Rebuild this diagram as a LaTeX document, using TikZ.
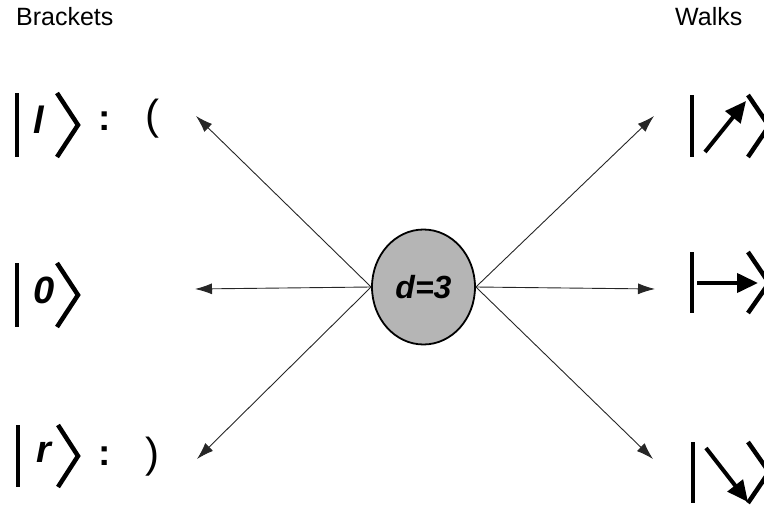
\documentclass[tikz,border=0pt]{standalone}
\usepackage{fontspec}
\setmainfont{Liberation Sans}
\usetikzlibrary{shapes.geometric,arrows.meta}
\begin{document}
\begin{tikzpicture}[x=1pt,y=-1pt,
  title/.style={font=\fontsize{25}{28}\selectfont, anchor=base west, inner sep=0},
  ketsym/.style={font=\fontsize{38}{40}\selectfont\bfseries\itshape, anchor=base, inner sep=0},
  punct/.style={font=\fontsize{37}{40}\selectfont\bfseries, anchor=base, inner sep=0},
  paren/.style={font=\fontsize{42}{46}\selectfont, anchor=center, inner sep=0},
  ketline/.style={line width=4.5pt, line cap=butt, line join=miter},
  walkarrow/.style={line width=4pt, -{Triangle[length=21pt,width=19pt]}},
  link/.style={line width=0.9pt, draw=black!85, -{Latex[length=17pt,width=11pt]}},
  dnode/.style={ellipse, draw, line width=1.8pt, fill=gray!58,
    minimum width=103pt, minimum height=115pt, inner sep=0,
    font=\fontsize{32}{34}\selectfont\bfseries\itshape}]
\clip (0,0) rectangle (764,506);

% column headings
\node[title] (hl) at (16,26) {Brackets};
\node[title] (hr) at (675,26) {Walks};

% central node
\node[dnode] (d) at (423.5,287) {d=3};

% arrow tips next to the kets
\coordinate (tl) at (196,116);
\coordinate (ml) at (195,289);
\coordinate (bl) at (197,459);
\coordinate (tr) at (654,116);
\coordinate (mr) at (655,289);
\coordinate (br) at (653,459);

\draw[link] (d.west) -- (tl);
\draw[link] (d.west) -- (ml);
\draw[link] (d.west) -- (bl);
\draw[link] (d.east) -- (tr);
\draw[link] (d.east) -- (mr);
\draw[link] (d.east) -- (br);

% left kets: bars and angle brackets
\draw[ketline] (17,93) -- (17,157);
\draw[ketline] (57,93) -- (78,125) -- (57,157);
\draw[ketline] (17,263) -- (17,327);
\draw[ketline] (57,263) -- (78,295) -- (57,327);
\draw[ketline] (18,425) -- (18,487);
\draw[ketline] (58,425) -- (78,456) -- (58,487);

\node[ketsym] (kl) at (39,133) {l};
\node[ketsym] (k0) at (44,303) {0};
\node[ketsym] (kr) at (44,462) {r};

\node[punct] (cl) at (105,130) {:};
\node[punct] (cr) at (105,465) {:};
\node[paren] (pl) at (152,119) {(};
\node[paren] (pr) at (152,457) {)};

% right kets: walk steps
\draw[ketline] (692,95) -- (692,157);
\draw[ketline] (748,95) -- (769,126) -- (748,157);
\draw[walkarrow] (705,152) -- (746,101);

\draw[ketline] (692,252) -- (692,313);
\draw[ketline] (748,252) -- (769,283) -- (748,313);
\draw[walkarrow] (697,283) -- (758,283);

\draw[ketline] (693,442) -- (693,503);
\draw[ketline] (748,442) -- (769,472) -- (748,503);
\draw[walkarrow] (706,448) -- (748,502);
\end{tikzpicture}
\end{document}
